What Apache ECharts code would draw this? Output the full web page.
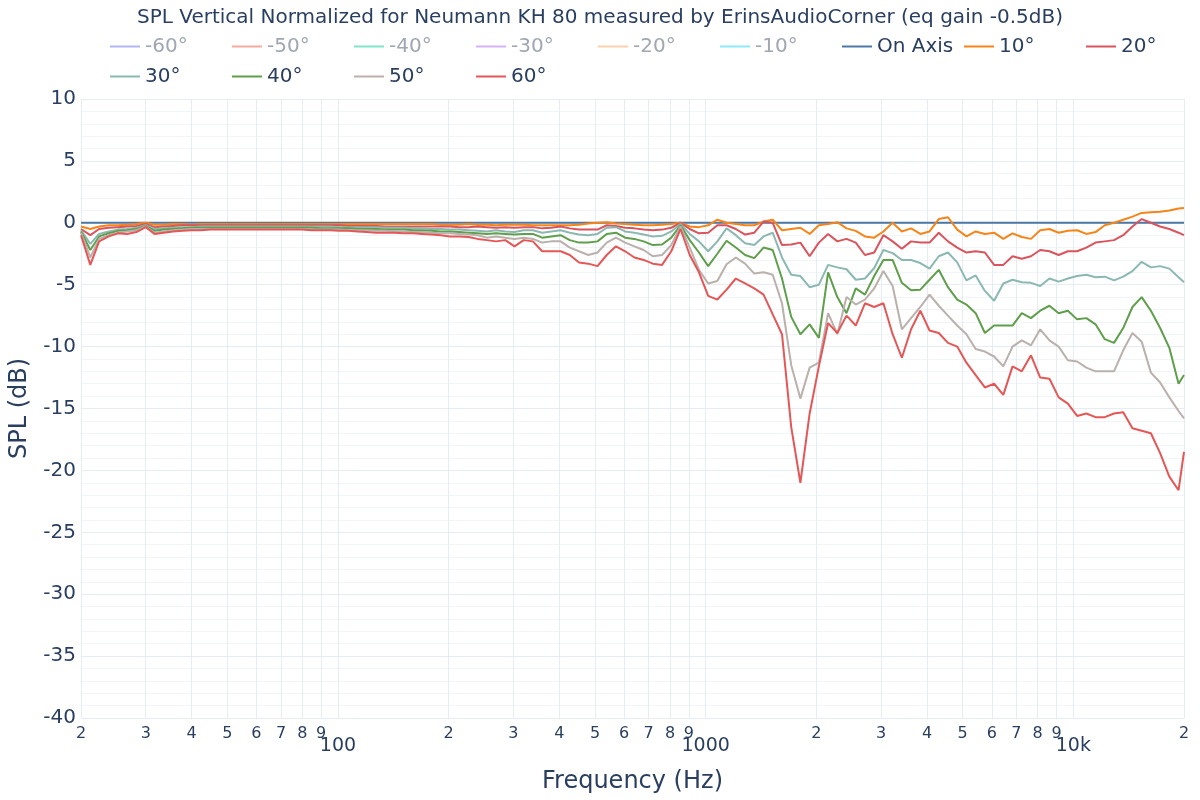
<!DOCTYPE html>
<html><head><meta charset="utf-8">
<script src="https://cdn.jsdelivr.net/npm/echarts@6/dist/echarts.min.js"></script>
<style>html,body{margin:0;padding:0;background:#fff}#c{width:1200px;height:800px}</style>
</head><body><div id="c"></div>
<script>
// Frequencies (Hz), roughly 1/12 octave
const freqHz = [
  20, 21.2, 22.4, 23.8, 25.2, 26.7, 28.3, 30, 31.7, 33.6, 35.6, 37.8,
  40, 42.4, 44.9, 47.6, 50.4, 53.4, 56.6, 59.9, 63.5, 67.3, 71.3, 75.5,
  80, 84.8, 89.8, 95.1, 100.8, 106.8, 113.1, 119.9, 127, 134.5, 142.5, 151,
  160, 169.5, 179.6, 190.3, 201.6, 213.6, 226.3, 239.7, 254, 269.1, 285.1, 302.1,
  320, 339, 359.2, 380.5, 403.2, 427.1, 452.5, 479.5, 508, 538.2, 570.2, 604.1,
  640, 678.1, 718.4, 761.1, 806.3, 854.3, 905.1, 958.9, 1016, 1076, 1140, 1208,
  1280, 1356, 1437, 1522, 1613, 1709, 1810, 1918, 2032, 2153, 2281, 2416,
  2560, 2712, 2874, 3044, 3225, 3417, 3620, 3836, 4064, 4305, 4561, 4833,
  5120, 5425, 5747, 6089, 6451, 6834, 7241, 7671, 8127, 8611, 9123, 9665,
  10240, 10849, 11494, 12177, 12902, 13669, 14482, 15343, 16255, 17222, 18246, 19331,
  20000
];

const splOnAxis = [
  0,0,0,0,0,0,0,0,0,0,0,0, 0,0,0,0,0,0,0,0,0,0,0,0,
  0,0,0,0,0,0,0,0,0,0,0,0, 0,0,0,0,0,0,0,0,0,0,0,0,
  0,0,0,0,0,0,0,0,0,0,0,0, 0,0,0,0,0,0,0,0,0,0,0,0,
  0,0,0,0,0,0,0,0,0,0,0,0, 0,0,0,0,0,0,0,0,0,0,0,0,
  0,0,0,0,0,0,0,0,0,0,0,0, 0,0,0,0,0,0,0,0,0,0,0,0,
  0
];

const spl10 = [
  -0.3, -0.5, -0.3, -0.2, -0.2, -0.15, -0.1, 0.0, -0.15, -0.15, -0.1, -0.1,
  -0.15, -0.1, -0.1, -0.1, -0.1, -0.1, -0.1, -0.1, -0.1, -0.1, -0.1, -0.1,
  -0.1, -0.1, -0.1, -0.1, -0.1, -0.1, -0.1, -0.1, -0.1, -0.1, -0.1, -0.1,
  -0.1, -0.1, -0.1, -0.15, -0.15, -0.15, -0.1, -0.15, -0.15, -0.2, -0.15, -0.15,
  -0.15, -0.2, -0.2, -0.2, -0.2, -0.2, -0.15, -0.05, 0.0, 0.05, -0.05, -0.1,
  -0.15, -0.2, -0.2, -0.15, -0.1, 0.0, -0.3, -0.35, -0.2, 0.25, 0.0, -0.1,
  -0.2, -0.2, 0.1, 0.25, -0.6, -0.5, -0.4, -0.9, -0.2, -0.1, 0.05, -0.45,
  -0.65, -1.1, -1.2, -0.7, 0.0, -0.7, -0.45, -0.9, -0.7, 0.3, 0.45, -0.55,
  -1.1, -0.7, -0.9, -0.8, -1.3, -0.85, -1.15, -1.3, -0.6, -0.5, -0.8, -0.65,
  -0.6, -0.9, -0.75, -0.2, 0.0, 0.25, 0.5, 0.8, 0.85, 0.9, 1.0, 1.15,
  1.2
];

const spl20 = [
  -0.5, -1.0, -0.5, -0.4, -0.35, -0.3, -0.25, -0.1, -0.35, -0.3, -0.25, -0.2,
  -0.2, -0.2, -0.2, -0.2, -0.2, -0.2, -0.2, -0.2, -0.2, -0.2, -0.2, -0.2,
  -0.2, -0.2, -0.2, -0.2, -0.2, -0.25, -0.25, -0.25, -0.25, -0.3, -0.3, -0.3,
  -0.3, -0.3, -0.3, -0.3, -0.3, -0.35, -0.35, -0.3, -0.35, -0.4, -0.35, -0.4,
  -0.35, -0.35, -0.45, -0.4, -0.3, -0.45, -0.55, -0.55, -0.55, -0.2, -0.25, -0.4,
  -0.45, -0.55, -0.6, -0.55, -0.4, 0.0, -0.5, -0.85, -0.8, -0.2, -0.2, -0.5,
  -0.95, -0.8, 0.1, 0.0, -1.8, -1.75, -1.6, -2.7, -1.6, -0.9, -1.5, -1.3,
  -1.6, -2.6, -2.4, -1.0, -1.5, -2.1, -1.5, -1.6, -1.6, -0.8, -1.5, -2.0,
  -2.4, -2.3, -2.4, -3.4, -3.4, -2.7, -2.9, -2.7, -2.2, -2.3, -2.6, -2.3,
  -2.3, -2.0, -1.6, -1.5, -1.4, -1.0, -0.3, 0.3, 0.0, -0.3, -0.5, -0.8,
  -1.0
];

const spl30 = [
  -0.6, -1.7, -0.9, -0.7, -0.55, -0.5, -0.4, -0.2, -0.5, -0.45, -0.4, -0.35,
  -0.35, -0.3, -0.3, -0.3, -0.3, -0.3, -0.3, -0.3, -0.3, -0.3, -0.3, -0.3,
  -0.3, -0.3, -0.3, -0.3, -0.35, -0.35, -0.35, -0.35, -0.35, -0.4, -0.4, -0.4,
  -0.45, -0.45, -0.5, -0.5, -0.55, -0.55, -0.6, -0.65, -0.7, -0.6, -0.7, -0.75,
  -0.6, -0.6, -0.8, -0.7, -0.6, -0.8, -0.95, -1.0, -0.9, -0.4, -0.35, -0.7,
  -0.8, -0.95, -1.1, -1.05, -0.7, -0.1, -0.9, -1.5, -2.3, -1.5, -0.45, -1.0,
  -1.65, -1.8, -1.1, -0.8, -2.8, -4.2, -4.3, -5.2, -5.0, -3.4, -3.6, -3.75,
  -4.6, -4.5, -3.65, -2.2, -2.45, -3.0, -3.0, -3.25, -3.7, -2.7, -2.4, -3.2,
  -4.65, -4.25, -5.5, -6.3, -4.9, -4.6, -4.8, -4.85, -5.1, -4.5, -4.75, -4.5,
  -4.3, -4.2, -4.4, -4.35, -4.65, -4.35, -3.9, -3.15, -3.6, -3.5, -3.7, -4.4,
  -4.8
];

const spl40 = [
  -0.7, -2.2, -1.1, -0.85, -0.65, -0.6, -0.5, -0.25, -0.65, -0.55, -0.5, -0.45,
  -0.4, -0.4, -0.4, -0.4, -0.4, -0.4, -0.4, -0.4, -0.4, -0.4, -0.4, -0.4,
  -0.4, -0.4, -0.45, -0.45, -0.45, -0.45, -0.5, -0.5, -0.5, -0.55, -0.55, -0.55,
  -0.6, -0.6, -0.65, -0.7, -0.7, -0.75, -0.8, -0.85, -0.9, -0.85, -0.9, -0.95,
  -0.9, -0.9, -1.2, -1.1, -1.0, -1.4, -1.6, -1.6, -1.5, -0.9, -0.8, -1.2,
  -1.3, -1.5, -1.8, -1.75, -1.2, -0.2, -1.4, -2.4, -3.5, -2.5, -1.45, -2.0,
  -2.6, -2.85, -2.0, -2.2, -4.5, -7.6, -9.0, -8.2, -9.3, -4.0, -6.0, -7.3,
  -5.3, -5.8, -4.3, -3.0, -3.0, -4.85, -5.45, -5.4, -4.6, -3.8, -5.2, -6.2,
  -6.6, -7.3, -8.9, -8.3, -8.3, -8.3, -7.3, -7.7, -7.1, -6.7, -7.3, -7.1,
  -7.8, -7.7, -8.2, -9.4, -9.7, -8.5, -6.8, -6.0, -7.1, -8.5, -10.1, -13.0,
  -12.3
];

const spl50 = [
  -0.8, -2.8, -1.3, -1.0, -0.8, -0.7, -0.6, -0.3, -0.8, -0.7, -0.6, -0.55,
  -0.5, -0.5, -0.5, -0.5, -0.5, -0.5, -0.5, -0.5, -0.5, -0.5, -0.5, -0.5,
  -0.5, -0.55, -0.55, -0.55, -0.55, -0.6, -0.6, -0.6, -0.65, -0.65, -0.7, -0.7,
  -0.75, -0.75, -0.8, -0.85, -0.85, -0.9, -0.95, -1.0, -1.2, -1.1, -1.2, -1.3,
  -1.2, -1.3, -1.6, -1.5, -1.5, -2.0, -2.3, -2.6, -2.4, -1.6, -1.2, -1.6,
  -1.9, -2.2, -2.7, -2.6, -1.8, -0.3, -2.0, -3.8, -4.9, -4.7, -3.35, -2.8,
  -3.3, -4.1, -4.0, -4.2, -6.5, -11.5, -14.2, -11.7, -11.3, -7.3, -9.0, -6.0,
  -6.6, -6.2, -5.3, -3.9, -5.1, -8.6, -7.7, -6.8, -5.8, -6.7, -7.5, -8.3,
  -9.0, -10.2, -10.4, -10.8, -11.6, -10.0, -9.5, -9.9, -8.6, -9.5, -10.0, -11.1,
  -11.2, -11.7, -12.0, -12.0, -12.0, -10.3, -8.9, -9.6, -12.1, -12.9, -14.1, -15.2,
  -15.8
];

const spl60 = [
  -1.0, -3.4, -1.5, -1.1, -0.85, -0.9, -0.75, -0.35, -0.9, -0.8, -0.7, -0.65,
  -0.6, -0.6, -0.55, -0.55, -0.55, -0.55, -0.55, -0.55, -0.55, -0.55, -0.55, -0.55,
  -0.55, -0.6, -0.6, -0.6, -0.65, -0.65, -0.7, -0.75, -0.8, -0.8, -0.8, -0.85,
  -0.85, -0.9, -0.95, -1.0, -1.1, -1.1, -1.15, -1.3, -1.4, -1.5, -1.4, -1.9,
  -1.4, -1.5, -2.3, -2.3, -2.3, -2.6, -3.2, -3.3, -3.5, -2.6, -1.9, -2.3,
  -2.8, -3.0, -3.3, -3.4, -2.3, -0.5, -2.6, -4.0, -5.9, -6.2, -5.4, -4.5,
  -4.9, -5.3, -5.8, -7.4, -9.0, -16.5, -21.0, -15.4, -11.6, -8.1, -8.9, -7.5,
  -8.3, -6.5, -6.8, -6.5, -9.0, -10.9, -8.6, -7.1, -8.7, -8.9, -9.7, -10.0,
  -11.3, -12.3, -13.3, -13.0, -13.9, -11.6, -12.0, -10.7, -12.5, -12.6, -14.1, -14.6,
  -15.6, -15.4, -15.7, -15.7, -15.4, -15.3, -16.6, -16.8, -17.0, -18.6, -20.5, -21.6,
  -18.5
];

const seriesNames = ['-60°', '-50°', '-40°', '-30°', '-20°', '-10°', 'On Axis', '10°', '20°', '30°', '40°', '50°', '60°'];
const hiddenNames = ['-60°', '-50°', '-40°', '-30°', '-20°', '-10°'];
const seriesColors = ['#b1b6fc', '#f7aa9d', '#7fe5ca', '#d5b1fc', '#ffd0ac', '#8ce9f9',
  '#4c78a8', '#f58518', '#d9545c', '#8cb8b2', '#5f9e4b', '#bab0ac', '#e45756'];
const visibleData = { 'On Axis': splOnAxis, '10°': spl10, '20°': spl20, '30°': spl30, '40°': spl40, '50°': spl50, '60°': spl60 };

const xTickHz = [20, 30, 40, 50, 60, 70, 80, 90, 100, 200, 300, 400, 500, 600, 700, 800, 900,
  1000, 2000, 3000, 4000, 5000, 6000, 7000, 8000, 9000, 10000, 20000];
const decadeLabels = { 100: '100', 1000: '1000', 10000: '10k' };

const titleText = 'SPL Vertical Normalized for Neumann KH 80 measured by ErinsAudioCorner (eq gain -0.5dB)';
const FONT = 'DejaVu Sans';
const TXT = '#2a3f5f';

const chart = echarts.init(document.getElementById('c'), null, { renderer: 'canvas' });
const xTickVals = xTickHz.map(f => Math.log10(f));

const series = seriesNames.map((name, k) => {
  const vals = visibleData[name];
  return {
    name: name,
    type: 'line',
    color: seriesColors[k],
    showSymbol: false,
    symbol: 'none',
    lineStyle: { width: 2, color: seriesColors[k] },
    itemStyle: { color: seriesColors[k] },
    data: vals ? freqHz.map((f, i) => [Math.log10(f), vals[i]]) : [],
    animation: false
  };
});

chart.setOption({
  backgroundColor: '#ffffff',
  animation: false,
  title: {
    text: titleText, left: 'center', top: 3,
    textStyle: { fontFamily: FONT, fontSize: 20, fontWeight: 'normal', color: TXT }
  },
  legend: {
    left: 105, top: 29, width: 1100,
    itemWidth: 30, itemHeight: 2, itemGap: 5, icon: 'rect',
    textStyle: { fontFamily: FONT, fontSize: 20, color: TXT, width: 82, lineHeight: 25 },
    data: seriesNames.map(n => hiddenNames.includes(n)
      ? { name: n, textStyle: { color: '#a0a7b2' } }
      : { name: n })
  },
  grid: { left: 80, right: 16, top: 99, bottom: 82, containLabel: false },
  xAxis: {
    type: 'value', min: Math.log10(20), max: Math.log10(20000),
    axisLine: { show: false },
    axisTick: { show: false, customValues: xTickVals },
    splitLine: { show: true, lineStyle: { color: '#e6ecf3', width: 1 } },
    axisLabel: {
      customValues: xTickVals, margin: 8, showMinLabel: true, showMaxLabel: true, hideOverlap: false,
      fontFamily: FONT, color: TXT,
      formatter: v => {
        const f = Math.round(Math.pow(10, v));
        if (decadeLabels[f]) return '{big|' + decadeLabels[f] + '}';
        return '{s|' + String(f)[0] + '}';
      },
      rich: {
        s: { fontFamily: FONT, fontSize: 16, color: TXT },
        big: { fontFamily: FONT, fontSize: 19, color: TXT, padding: [11, 0, 0, 0] }
      }
    },
    name: 'Frequency (Hz)', nameLocation: 'middle', nameGap: 52,
    nameTextStyle: { fontFamily: FONT, fontSize: 24, color: TXT }
  },
  yAxis: {
    type: 'value', min: -40, max: 10, interval: 5,
    axisLine: { show: false }, axisTick: { show: false },
    axisLabel: { fontFamily: FONT, fontSize: 20, color: TXT, margin: 5 },
    splitLine: { show: true, lineStyle: { color: '#e6ecf3', width: 1 } },
    minorTick: { show: false, splitNumber: 5 },
    minorSplitLine: { show: true, lineStyle: { color: '#f1f4f9', width: 1 } },
    name: 'SPL (dB)', nameLocation: 'middle', nameGap: 49,
    nameTextStyle: { fontFamily: FONT, fontSize: 24, color: TXT }
  },
  series: series
});
</script>
</body></html>
